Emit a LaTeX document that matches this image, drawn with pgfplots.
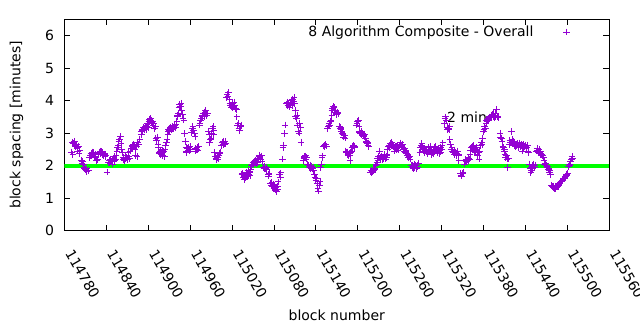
\documentclass[border=0pt]{standalone}
\usepackage{pgfplots}
\pgfplotsset{compat=1.18}
\usepackage{fontspec}
\setmainfont{DejaVu Sans}
\definecolor{pv}{RGB}{148,0,211}
\definecolor{lgreen}{RGB}{0,255,0}
\pgfplotsset{farmark/.style={legend image code/.code={\path[draw=none,fill=none] (0pt,-3pt) rectangle (34pt,3pt); \draw[##1] plot coordinates {(31pt,0pt)};}}}
\begin{document}
\begin{tikzpicture}
\useasboundingbox (0,0) rectangle (640pt,330pt);
\begin{axis}[
  at={(64.5pt,99.3pt)}, anchor=south west,
  scale only axis, width=544.5pt, height=211.4pt,
  font=\fontsize{14}{16}\selectfont,
  xmin=114780, xmax=115560, ymin=0, ymax=6.5,
  xtick={114780,114840,114900,114960,115020,115080,115140,115200,115260,115320,115380,115440,115500,115560},
  xticklabels={114780,114840,114900,114960,115020,115080,115140,115200,115260,115320,115380,115440,115500,115560},
  scaled x ticks=false,
  ytick={0,1,2,3,4,5,6},
  /pgf/number format/assume math mode=true,
  tick align=inside, major tick length=6pt,
  axis line style={line width=0.8pt},
  every tick/.style={black, line width=0.8pt},
  xticklabel style={xshift=3pt, yshift=-17pt, rotate=-60, anchor=west},
  yticklabel style={xshift=-7pt},
  xlabel={block number},
  ylabel={block spacing [minutes]},
  xlabel style={at={(axis description cs:0.5,-0.40)}, anchor=center},
  ylabel style={at={(axis description cs:-0.088,0.5)}, anchor=center},
  legend plot pos=right,
  legend cell align=right,
  legend style={draw=none, fill=none, inner sep=0pt, at={(axis description cs:0.9284,0.94)}, anchor=east, font=\fontsize{14}{16}\selectfont},
]
\addplot[only marks, mark=+, mark size=3.3pt, color=pv, line width=0.9pt, farmark] coordinates {
(114790,2.42)(114791,2.72)(114792,2.35)(114793,2.68)(114794,2.74)(114795,2.62)(114796,2.58)(114797,2.66)(114798,2.52)(114799,2.55)(114799,2.45)(114800,2.60)(114801,2.38)(114802,2.48)(114804,2.15)(114805,2.08)(114806,2.12)(114807,2.05)(114808,1.95)(114809,1.92)(114810,1.88)(114811,1.85)(114812,1.90)(114812,1.82)(114814,1.86)
(114816,2.25)(114817,2.32)(114818,2.38)(114819,2.30)(114820,2.42)(114821,2.35)(114822,2.40)(114823,2.28)(114824,2.36)(114825,2.24)(114826,2.15)(114827,2.18)(114829,2.35)(114830,2.42)(114831,2.45)(114832,2.38)(114833,2.44)(114834,2.35)(114835,2.40)(114836,2.30)(114837,2.36)(114838,2.28)(114838,2.34)(114839,2.30)(114841,1.80)
(114843,2.10)(114844,2.15)(114845,2.08)(114846,2.20)(114847,2.12)(114848,2.18)(114849,2.05)(114850,2.22)(114851,2.14)(114851,2.28)(114852,2.16)(114853,2.20)(114854,2.30)(114855,2.45)(114856,2.55)(114857,2.62)(114858,2.75)(114859,2.82)(114860,2.90)(114861,2.68)(114862,2.50)(114863,2.40)
(114864,2.25)(114864,2.18)(114865,2.22)(114866,2.15)(114867,2.30)(114868,2.20)(114869,2.25)(114870,2.18)(114871,2.40)(114872,2.28)(114873,2.22)(114874,2.45)(114876,2.52)(114877,2.58)(114877,2.62)(114878,2.55)(114879,2.65)(114880,2.60)(114881,2.50)(114882,2.30)(114883,2.58)(114884,2.28)(114885,2.72)(114886,2.65)(114888,2.80)
(114890,2.95)(114890,3.05)(114891,3.12)(114892,3.08)(114893,3.18)(114894,3.10)(114895,3.15)(114896,3.20)(114897,3.12)(114898,3.22)(114899,3.30)(114900,3.18)(114901,3.35)(114902,3.42)(114903,3.38)(114903,3.45)(114904,3.40)(114905,3.32)(114906,3.36)(114907,3.25)(114908,3.30)(114909,3.15)(114910,3.20)(114911,2.85)(114912,2.78)(114913,2.88)(114914,2.65)(114915,2.55)
(114916,2.42)(114916,2.38)(114917,2.45)(114918,2.35)(114919,2.40)(114920,2.48)(114921,2.32)(114922,2.44)(114923,2.28)(114924,2.50)(114925,2.62)(114926,2.72)(114927,2.80)(114928,2.95)(114929,3.05)(114929,3.12)(114930,3.08)(114931,3.15)(114932,3.18)(114933,3.10)(114934,3.14)(114935,3.20)(114936,3.15)(114937,3.22)(114938,3.25)(114939,3.18)(114940,3.28)(114941,3.35)(114942,3.50)(114942,3.55)(114943,3.62)(114944,3.78)(114945,3.88)(114946,3.82)(114947,3.92)(114948,3.70)(114949,3.58)(114950,3.45)
(114951,3.40)(114952,2.98)(114953,2.75)(114954,2.55)(114955,2.45)(114955,2.40)(114956,2.52)(114957,2.48)(114958,2.55)(114959,2.45)(114960,2.58)(114961,2.50)(114962,3.02)(114963,3.15)(114964,3.20)(114965,3.08)(114966,3.00)(114967,2.90)(114968,2.52)(114968,2.45)(114969,2.50)(114970,2.55)(114971,2.48)(114972,2.58)(114973,3.25)(114974,3.30)(114975,3.38)(114976,3.45)(114977,3.50)(114978,3.55)(114979,3.60)(114980,3.52)(114981,3.65)(114981,3.58)(114982,3.70)(114983,3.62)(114984,3.55)
(114985,3.60)(114986,3.05)(114987,2.95)(114988,2.72)(114989,2.80)(114990,2.85)(114991,3.00)(114992,3.15)(114993,3.20)(114994,3.08)(114994,2.95)(114995,2.40)(114996,2.28)(114997,2.22)(114998,2.18)(114999,2.25)(115000,2.20)(115001,2.30)(115002,2.38)(115003,2.42)(115005,2.62)(115006,2.72)(115007,2.65)(115007,2.75)(115008,2.70)(115009,2.66)(115010,2.74)(115011,2.68)
(115012,4.10)(115013,4.18)(115014,4.12)(115015,4.25)(115016,4.05)(115017,3.92)(115018,3.85)(115019,3.80)(115020,3.88)(115020,3.78)(115021,3.92)(115022,3.82)(115023,3.95)(115024,3.85)(115025,3.75)(115026,3.72)(115027,3.50)(115028,3.25)(115029,3.30)(115030,3.15)(115031,3.08)(115032,3.20)(115033,3.25)
(115034,1.72)(115035,1.75)(115036,1.65)(115037,1.70)(115038,1.58)(115039,1.62)(115040,1.80)(115041,1.75)(115042,1.68)(115043,1.85)(115044,1.72)(115045,1.78)(115046,1.82)(115046,1.70)(115047,1.88)(115048,2.00)(115049,2.05)(115050,2.10)(115051,2.02)(115052,2.12)(115053,2.08)(115054,2.15)(115055,2.05)(115056,2.18)(115057,2.10)(115058,2.22)(115059,2.28)(115059,2.32)(115060,2.25)(115061,2.18)(115062,2.30)(115063,2.12)(115065,1.95)(115066,1.92)(115067,1.98)(115068,1.90)(115069,1.88)(115070,1.95)(115072,1.72)(115072,1.68)(115073,1.75)
(115075,1.45)(115076,1.40)(115077,1.48)(115078,1.35)(115079,1.42)(115080,1.30)(115081,1.38)(115082,1.25)(115083,1.32)(115084,1.20)(115085,1.28)(115085,1.35)(115086,1.50)(115088,1.72)(115089,1.65)(115090,1.78)(115092,2.20)(115093,2.55)(115094,2.62)(115095,2.98)(115096,3.25)
(115098,3.90)(115099,3.95)(115100,3.85)(115101,3.92)(115102,3.80)(115103,3.88)(115104,3.95)(115105,4.00)(115106,3.85)(115107,4.05)(115108,3.98)(115109,4.10)(115110,3.92)(115111,3.70)(115111,3.50)(115112,3.45)(115113,3.55)(115114,3.25)(115115,3.05)(115116,3.00)(115117,3.30)(115118,3.18)(115119,2.72)
(115122,2.15)(115123,2.22)(115124,2.28)(115124,2.25)(115125,2.30)(115126,2.20)(115127,2.25)(115128,2.05)(115130,2.00)(115131,1.95)(115132,2.02)(115133,1.92)(115134,1.98)(115135,1.90)(115136,1.95)(115137,1.85)(115138,1.72)(115139,1.65)(115140,1.55)(115141,1.60)(115142,1.45)(115143,1.30)(115144,1.22)(115145,1.40)(115146,1.52)(115147,1.95)(115148,2.05)(115149,2.25)(115150,2.30)
(115151,2.60)(115152,2.62)(115153,2.58)(115154,2.65)(115155,2.60)(115157,3.15)(115158,3.22)(115159,3.30)(115160,3.25)(115161,3.35)(115162,3.40)(115163,3.55)(115163,3.70)(115164,3.75)(115165,3.82)(115166,3.78)(115167,3.65)(115168,3.70)(115169,3.62)(115170,3.58)(115171,3.65)(115172,3.60)(115174,3.20)(115175,3.15)(115176,3.12)(115176,3.18)(115177,3.05)(115178,3.00)(115179,2.95)(115180,2.88)(115181,2.92)(115182,2.85)
(115183,2.45)(115184,2.40)(115185,2.42)(115186,2.35)(115187,2.30)(115188,2.38)(115189,2.15)(115189,2.32)(115190,2.40)(115191,2.45)(115192,2.55)(115193,2.58)(115194,2.62)(115195,2.55)(115196,2.60)(115198,3.25)(115199,3.30)(115200,3.35)(115201,3.40)(115202,3.22)(115202,3.05)(115203,3.02)(115204,2.98)(115205,3.05)(115206,2.95)(115207,3.00)(115208,2.92)(115209,2.90)(115210,2.95)(115211,2.85)(115212,2.72)(115213,2.75)(115214,2.68)(115215,2.70)(115215,2.62)(115216,2.58)
(115218,1.80)(115219,1.85)(115220,1.78)(115221,1.82)(115222,1.90)(115223,1.85)(115224,1.92)(115225,1.88)(115226,2.00)(115227,2.05)(115228,2.10)(115228,2.22)(115229,2.15)(115230,2.28)(115231,2.45)(115232,2.25)(115233,2.20)(115234,2.30)(115235,2.18)(115236,2.25)(115237,2.22)(115238,2.28)(115239,2.35)(115240,2.20)(115241,2.30)(115241,2.26)(115242,2.35)(115243,2.50)(115244,2.58)(115245,2.62)(115246,2.55)(115247,2.68)(115248,2.60)(115249,2.72)(115250,2.65)(115251,2.58)(115252,2.52)(115253,2.45)(115254,2.55)(115254,2.60)(115255,2.50)(115256,2.58)(115257,2.62)(115258,2.48)(115259,2.55)(115260,2.60)(115261,2.70)(115262,2.62)(115263,2.58)(115264,2.65)(115265,2.55)(115266,2.50)(115267,2.45)(115267,2.52)(115268,2.42)(115269,2.48)(115270,2.38)(115271,2.30)(115272,2.35)(115273,2.25)(115274,2.28)(115275,2.20)
(115277,2.00)(115278,1.95)(115279,2.02)(115280,1.92)(115280,1.98)(115281,2.05)(115282,1.95)(115283,2.00)(115284,1.90)(115285,2.02)(115286,1.96)(115287,2.08)(115289,2.40)(115290,2.55)(115291,2.62)(115292,2.68)(115293,2.58)(115293,2.50)(115294,2.45)(115295,2.52)(115296,2.40)(115297,2.48)(115298,2.42)(115299,2.50)(115300,2.38)(115301,2.45)(115302,2.55)(115303,2.48)(115304,2.60)(115305,2.42)(115306,2.35)(115306,2.45)(115307,2.40)(115308,2.50)(115309,2.38)(115310,2.55)(115311,2.45)(115312,2.60)(115313,2.48)(115314,2.40)(115315,2.52)(115316,2.45)(115317,2.38)(115318,2.48)(115319,2.42)(115319,2.55)(115320,2.50)(115321,2.62)(115322,2.70)
(115324,3.30)(115325,3.45)(115326,3.50)(115327,3.38)(115328,3.18)(115329,3.12)(115330,3.15)(115331,3.10)(115332,3.20)(115332,2.80)(115333,2.65)(115334,2.50)(115335,2.55)(115336,2.45)(115337,2.40)(115338,2.48)(115339,2.35)(115340,2.42)(115341,2.30)(115342,2.38)(115343,2.45)(115344,2.35)(115345,2.30)(115345,2.15)(115347,1.75)(115348,1.70)(115349,1.68)(115350,1.75)(115351,1.80)
(115353,2.05)(115354,2.15)(115355,2.20)(115356,2.12)(115357,2.18)(115358,2.25)(115358,2.15)(115359,2.22)(115360,2.20)(115361,2.35)(115362,2.48)(115363,2.55)(115364,2.60)(115365,2.52)(115366,2.62)(115367,2.45)(115368,2.50)(115369,2.40)(115370,2.55)(115371,2.48)(115371,2.35)(115372,2.30)(115373,2.42)(115374,2.20)(115375,2.45)(115376,2.62)(115377,2.70)(115378,2.65)(115379,2.85)(115380,3.05)(115381,3.12)(115382,3.20)(115383,3.15)(115384,3.30)(115384,3.38)(115385,3.35)(115386,3.42)(115387,3.45)(115388,3.40)(115389,3.50)(115390,3.48)(115391,3.55)(115392,3.50)(115393,3.58)(115394,3.52)(115395,3.60)(115396,3.48)(115397,3.55)(115397,3.62)(115398,3.50)(115399,3.72)(115400,3.52)(115401,3.48)
(115404,3.00)(115405,2.88)(115406,2.85)(115407,2.75)(115408,2.60)(115409,2.55)(115410,2.45)(115410,2.50)(115411,2.35)(115412,2.25)(115413,2.30)(115414,2.20)(115415,1.95)(115416,2.22)(115417,2.65)(115418,2.78)(115419,2.70)(115420,3.05)(115421,2.80)(115422,2.72)(115423,2.68)(115423,2.75)(115424,2.62)(115425,2.70)(115426,2.58)(115427,2.65)(115428,2.60)(115429,2.68)(115430,2.55)(115431,2.62)(115432,2.70)(115433,2.58)(115434,2.65)(115435,2.60)(115436,2.45)
(115436,2.62)(115437,2.55)(115438,2.65)(115439,2.58)(115440,2.62)(115441,2.60)(115442,2.55)(115443,2.62)(115444,2.45)(115445,2.40)(115446,2.05)(115447,1.92)(115448,1.78)(115449,1.85)(115449,1.95)(115450,2.00)(115451,1.90)(115452,2.05)(115453,1.95)(115454,2.02)(115456,2.45)(115457,2.52)(115458,2.48)(115459,2.40)(115460,2.50)(115461,2.42)(115462,2.38)(115462,2.45)(115463,2.35)(115464,2.30)(115465,2.32)(115466,2.25)(115467,2.15)(115468,2.05)(115469,2.08)(115470,2.00)(115471,1.95)(115472,1.98)(115473,1.88)(115474,1.92)(115475,1.85)(115475,1.80)(115476,1.72)
(115478,1.40)(115479,1.35)(115480,1.32)(115481,1.38)(115482,1.30)(115483,1.36)(115484,1.28)(115485,1.34)(115486,1.40)(115487,1.35)(115488,1.42)(115488,1.38)(115489,1.45)(115490,1.48)(115491,1.52)(115492,1.50)(115493,1.55)(115494,1.58)(115495,1.60)(115496,1.62)(115497,1.65)(115498,1.68)(115499,1.72)(115500,1.70)(115501,1.75)(115502,1.98)(115503,2.05)(115504,2.02)(115505,2.12)(115506,2.20)(115507,2.28)(115508,2.22)
};
\addlegendentry{8 Algorithm Composite - Overall}
\addplot[color=lgreen, line width=4pt, forget plot] coordinates {(114780,2) (115560,2)};
\node[anchor=west, inner sep=0pt] at (axis cs:115328,3.48) {2 min};
\end{axis}
\end{tikzpicture}
\end{document}
